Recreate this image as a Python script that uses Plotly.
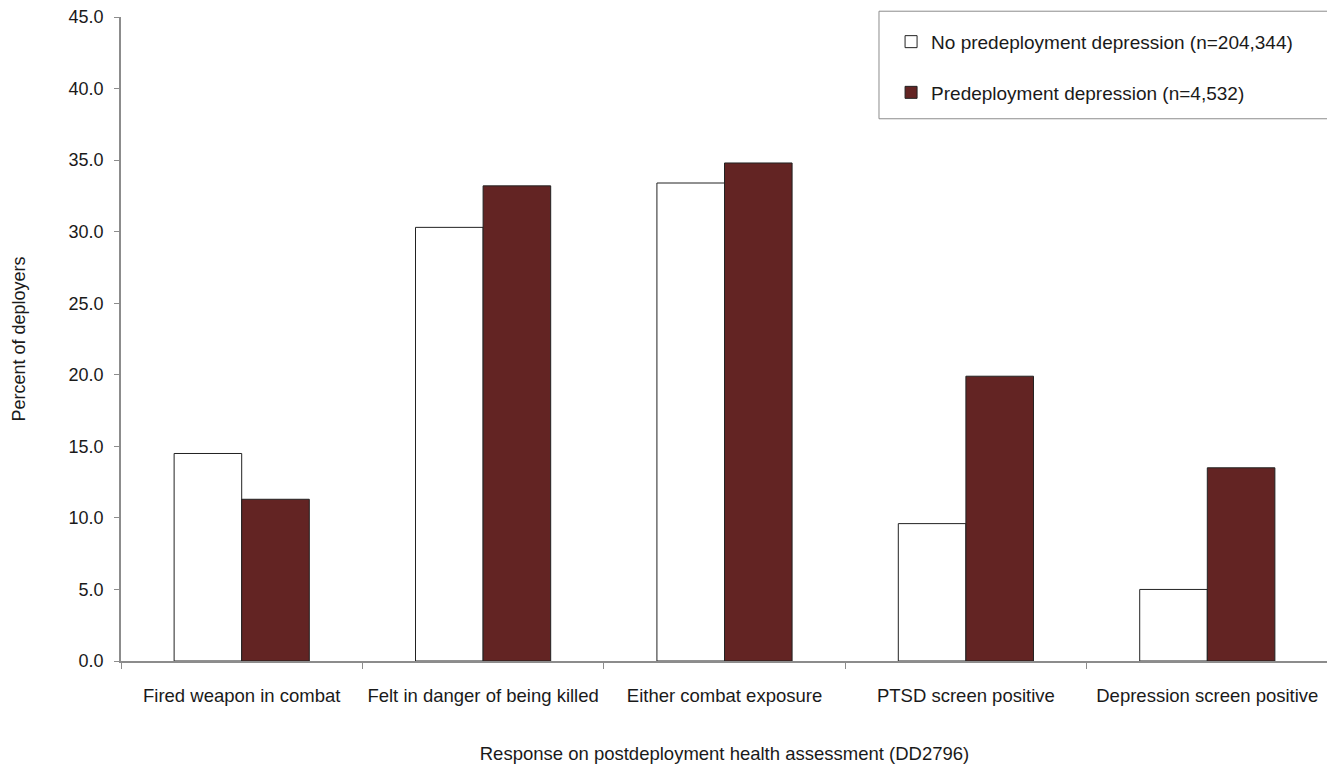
import plotly.graph_objects as go

categories = ["Fired weapon in combat", "Felt in danger of being killed",
              "Either combat exposure", "PTSD screen positive",
              "Depression screen positive"]
no_dep = [14.5, 30.3, 33.4, 9.6, 5.0]
pre_dep = [11.3, 33.2, 34.8, 19.9, 13.5]
names = ["No predeployment depression (n=204,344)",
         "Predeployment depression (n=4,532)"]

font = "Liberation Sans, Arial, sans-serif"

fig = go.Figure()
fig.add_trace(go.Bar(x=categories, y=no_dep, name=names[0], legendgroup="a",
                     marker=dict(color="white", line=dict(color="#222222", width=1))))
fig.add_trace(go.Bar(x=categories, y=pre_dep, name=names[1], legendgroup="b",
                     marker=dict(color="#632423", line=dict(color="#222222", width=1))))

# legend box
fig.add_shape(type="rect", xref="paper", yref="paper",
              x0=0.628, x1=1.005, y0=0.842, y1=1.009,
              line=dict(color="#8c8c8c", width=1), fillcolor="white", layer="below")

fig.update_layout(
    width=1335, height=769,
    margin=dict(l=113, r=15, t=9, b=116),
    plot_bgcolor="white", paper_bgcolor="white",
    font=dict(family=font, size=18, color="#1a1a1a"),
    barmode="group", bargap=0.44, bargroupgap=0,
    legend=dict(x=0.638, y=0.991, xanchor="left", yanchor="top",
                traceorder="grouped", tracegroupgap=23,
                bgcolor="rgba(0,0,0,0)", borderwidth=0,
                font=dict(size=19), itemwidth=30),
    xaxis=dict(showline=True, linecolor="#8c8c8c", linewidth=1.5,
               ticks="outside", tickson="boundaries", ticklen=6,
               tickcolor="#8c8c8c", tickfont=dict(size=18.5),
               ticklabelstandoff=17,
               title=dict(text="Response on postdeployment health assessment (DD2796)",
                          font=dict(size=18.5), standoff=42)),
    yaxis=dict(range=[0, 45], dtick=5, tickformat=".1f",
               showline=True, linecolor="#8c8c8c", linewidth=1.5,
               ticks="outside", ticklen=5, tickcolor="#8c8c8c",
               showgrid=False, zeroline=False, tickfont=dict(size=18),
               ticklabelstandoff=7, ticklabeloverflow="allow", automargin=False,
               title=dict(text="Percent of deployers", font=dict(size=18), standoff=38)),
)

fig.write_html("out.html")
